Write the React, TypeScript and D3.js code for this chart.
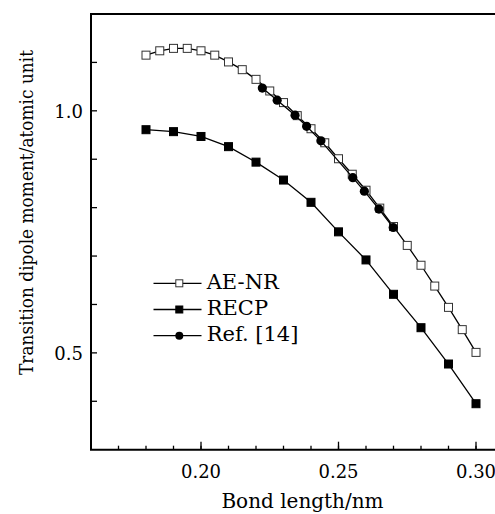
import React from "react";
import * as d3 from "d3";

// AE-NR (open squares)
const aeX = [
  0.18, 0.185, 0.19, 0.195, 0.2, 0.205, 0.21, 0.215, 0.22, 0.225, 0.23, 0.235,
  0.24, 0.245, 0.25, 0.255, 0.26, 0.265, 0.27, 0.275, 0.28, 0.285, 0.29, 0.295,
  0.3,
];
const aeY = [
  1.115, 1.124, 1.129, 1.129, 1.124, 1.115, 1.101, 1.085, 1.065, 1.041, 1.017,
  0.99, 0.963, 0.934, 0.901, 0.869, 0.836, 0.799, 0.761, 0.722, 0.681, 0.638,
  0.594, 0.548, 0.501,
];

// RECP (filled squares)
const recpX = [0.18, 0.19, 0.2, 0.21, 0.22, 0.23, 0.24, 0.25, 0.26, 0.27, 0.28, 0.29, 0.3];
const recpY = [0.961, 0.957, 0.947, 0.926, 0.894, 0.857, 0.811, 0.75, 0.692, 0.621, 0.552, 0.477, 0.395];

// Ref. [14] (filled circles)
const refX = [0.2223, 0.2277, 0.2342, 0.2384, 0.2436, 0.2552, 0.2594, 0.2647, 0.2699];
const refY = [1.047, 1.022, 0.991, 0.968, 0.938, 0.862, 0.834, 0.797, 0.759];

const xMajor = [0.2, 0.25, 0.3];
const xMinor = [0.17, 0.18, 0.19, 0.2, 0.21, 0.22, 0.23, 0.24, 0.25, 0.26, 0.27, 0.28, 0.29, 0.3];
const yTicks = [0.4, 0.5, 0.6, 0.7, 0.8, 0.9, 1.0, 1.1];
const yLabels = [0.5, 1.0];
const legendNames = ["AE-NR", "RECP", "Ref. [14]"];

const width = 495;
const height = 514;
const serif = "'DejaVu Serif'";

const x = d3.scaleLinear().domain([0.16, 0.31]).range([91, 503.5]);
const y = d3.scaleLinear().domain([0.3, 1.2]).range([449.7, 14]);

const zip = (xs: number[], ys: number[]) => xs.map((v, i) => [v, ys[i]] as [number, number]);

const line = d3
  .line<[number, number]>()
  .x((d) => x(d[0]))
  .y((d) => y(d[1]));

const Square = ({ cx, cy, s, open }: { cx: number; cy: number; s: number; open: boolean }) => (
  <rect
    x={cx - s / 2}
    y={cy - s / 2}
    width={s}
    height={s}
    fill={open ? "#fff" : "#000"}
    stroke={open ? "#333" : "#000"}
    strokeWidth={1}
  />
);

export default function App() {
  const ae = zip(aeX, aeY);
  const recp = zip(recpX, recpY);
  const ref = zip(refX, refY);
  const bottom = y.range()[0];
  const left = x.range()[0];

  return (
    <svg
      width={width}
      height={height}
      style={{ position: "absolute", left: 0, top: 0, background: "#fff" }}
    >
      {/* frame */}
      <path
        d={`M${x.range()[1]},${y.range()[1]}H${left}V${bottom}H${x.range()[1]}V${y.range()[1]}`}
        fill="none"
        stroke="#000"
        strokeWidth={2}
      />

      {/* x ticks */}
      {xMinor.map((t) => (
        <line key={"xm" + t} x1={x(t)} x2={x(t)} y1={bottom} y2={bottom - 4} stroke="#000" strokeWidth={1.3} />
      ))}
      {xMajor.map((t) => (
        <g key={"xM" + t}>
          <line x1={x(t)} x2={x(t)} y1={bottom} y2={bottom - 8} stroke="#000" strokeWidth={1.3} />
          <text x={x(t)} y={478} textAnchor="middle" style={{ fontFamily: serif, fontSize: "18px" }}>
            {t.toFixed(2)}
          </text>
        </g>
      ))}

      {/* y ticks */}
      {yTicks.map((t) => (
        <line key={"y" + t} x1={left} x2={left + 6} y1={y(t)} y2={y(t)} stroke="#000" strokeWidth={1.3} />
      ))}
      {yLabels.map((t) => (
        <text
          key={"yl" + t}
          x={83}
          y={y(t) + 7}
          textAnchor="end"
          style={{ fontFamily: serif, fontSize: "18px" }}
        >
          {t.toFixed(1)}
        </text>
      ))}

      {/* axis titles */}
      <text x={302.5} y={508} textAnchor="middle" style={{ fontFamily: serif, fontSize: "20px" }}>
        Bond length/nm
      </text>
      <text
        transform={`translate(33,212.5) rotate(-90)`}
        textAnchor="middle"
        style={{ fontFamily: serif, fontSize: "19px" }}
        textLength={325}
        lengthAdjust="spacingAndGlyphs"
      >
        Transition dipole moment/atomic unit
      </text>

      {/* AE-NR */}
      <path d={line(ae) ?? ""} fill="none" stroke="#000" strokeWidth={1.3} />
      {ae.map((d, i) => (
        <Square key={"ae" + i} cx={x(d[0])} cy={y(d[1])} s={8} open={true} />
      ))}

      {/* RECP */}
      <path d={line(recp) ?? ""} fill="none" stroke="#000" strokeWidth={1.3} />
      {recp.map((d, i) => (
        <Square key={"rc" + i} cx={x(d[0])} cy={y(d[1])} s={8} open={false} />
      ))}

      {/* Ref. [14] */}
      <path d={line(ref) ?? ""} fill="none" stroke="#000" strokeWidth={1.3} />
      {ref.map((d, i) => (
        <circle key={"rf" + i} cx={x(d[0])} cy={y(d[1])} r={4.6} fill="#000" />
      ))}

      {/* legend */}
      {legendNames.map((name, i) => {
        const ly = 283.3 + i * 26.2;
        return (
          <g key={name}>
            <line x1={153.5} x2={201.5} y1={ly} y2={ly} stroke="#000" strokeWidth={1.3} />
            {i === 2 ? (
              <circle cx={179.3} cy={ly} r={4} fill="#000" />
            ) : (
              <Square cx={179.3} cy={ly} s={7} open={i === 0} />
            )}
            <text x={206.7} y={ly + 5.3} style={{ fontFamily: serif, fontSize: "21px" }}>
              {name}
            </text>
          </g>
        );
      })}
    </svg>
  );
}
